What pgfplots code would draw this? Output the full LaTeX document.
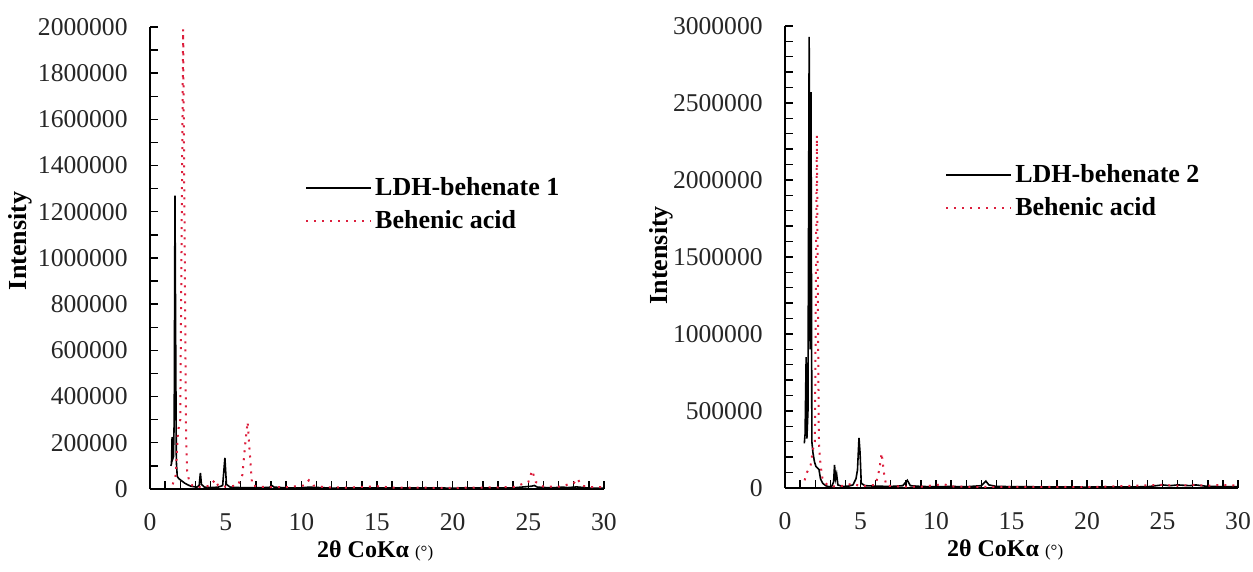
\documentclass[border=0pt]{standalone}
\usepackage{fontspec}
\setmainfont{Liberation Serif}
\usepackage{pgfplots}
\pgfplotsset{compat=1.18}
\definecolor{acidred}{RGB}{220,30,60}
\pgfplotsset{
  xrdaxis/.style={
    scale only axis,
    axis lines=left,
    axis line style={-, line width=0.7pt, black},
    every tick/.style={black, line width=0.7pt},
    tick align=inside,
    xtick pos=bottom, ytick pos=left,
    major tick length=4pt, minor tick length=4pt,
    xmin=0, xmax=30, ymin=0,
    xtick distance=5, minor x tick num=4,
    scaled y ticks=false,
    /pgf/number format/assume math mode=true,
    yticklabel style={/pgf/number format/fixed, /pgf/number format/1000 sep={}, anchor=east, inner sep=0pt, xshift=-11pt, font=\fontsize{12.8}{14}\selectfont, text=black!85},
    xticklabel style={anchor=center, inner sep=0pt, yshift=-16.5pt, font=\fontsize{12.8}{14}\selectfont, text=black!85},
    ylabel style={anchor=center, font=\bfseries\fontsize{13}{15}\selectfont},
    xlabel style={anchor=center, font=\bfseries\fontsize{12}{14}\selectfont},
    legend style={draw=none, fill=none, anchor=west, inner sep=0pt, row sep=3pt, font=\bfseries\fontsize{13}{15}\selectfont, nodes={inner sep=1.5pt}},
    legend cell align=left,
    legend image code/.code={\draw[##1] (0pt,0pt) -- (32.5pt,0pt);},
    clip=true,
  },
  ldh/.style={black, line width=0.8pt},
  acid/.style={acidred, line width=1pt, dash pattern=on 1pt off 3pt},
}
\begin{document}
\begin{tikzpicture}
\path[use as bounding box] (0,0) rectangle (626.5pt,286pt);
% ---------------- left panel ----------------
\begin{axis}[xrdaxis,
  at={(75pt,41.5pt)}, anchor=south west,
  width=227pt, height=231pt,
  ymax=2000000, ytick distance=200000, minor y tick num=1,
  ylabel={Intensity},
  ylabel style={at={(axis description cs:-0.285,0.537)}},
  xlabel={2θ CoKα {\fontsize{8.5}{9}\selectfont\mdseries(°)}},
  xlabel style={at={(axis description cs:0.496,-0.134)}},
  legend style={at={(axis description cs:0.341,0.616)}},
]
\addplot[ldh] coordinates {
(1.38,100000) (1.42,110000) (1.46,225000) (1.50,130000) (1.55,140000) (1.60,300000) (1.65,1270000) (1.70,600000) (1.74,120000) (1.80,55000) (1.90,45000) (2.0,40000) (2.1,35000) (2.3,25000) (2.5,18000) (2.7,12000) (2.9,10000) (3.1,8000) (3.25,15000) (3.33,70000) (3.40,20000) (3.6,8000) (4.0,6000) (4.5,8000) (4.8,15000) (4.95,135000) (5.05,20000) (5.3,8000) (6,6000) (7,5000) (7.9,7000) (8.05,15000) (8.2,8000) (9,5000) (10,5000) (10.5,8000) (12,4000) (15,5000) (20,4000) (24,5000) (25.2,12000) (25.4,15000) (25.6,8000) (26.5,5000) (27.3,8000) (27.6,6000) (28.2,9000) (29,4000) (30,4000)
};
\addlegendentry{LDH-behenate 1}
\addplot[acid] coordinates {
(1.5,20000) (1.7,60000) (1.85,250000) (2.0,300000) (2.19,1990000) (2.38,250000) (2.45,80000) (2.6,30000) (2.8,15000) (3.0,10000) (3.5,8000) (4.0,15000) (4.3,40000) (4.5,15000) (5.0,10000) (5.8,15000) (6.1,60000) (6.3,200000) (6.45,290000) (6.6,150000) (6.75,15000) (7.2,10000) (8,8000) (9,8000) (10.2,15000) (10.5,38000) (10.8,15000) (11.5,8000) (13,6000) (15,12000) (16,6000) (20,5000) (24,8000) (25.0,30000) (25.25,80000) (25.5,30000) (26,10000) (27,10000) (28.0,25000) (28.25,45000) (28.5,15000) (29,8000) (30,8000)
};
\addlegendentry{Behenic acid}
\end{axis}
% ---------------- right panel ----------------
\begin{axis}[xrdaxis,
  at={(392.5pt,42pt)}, anchor=south west,
  width=226.5pt, height=231pt,
  ymax=3000000, ytick distance=500000, minor y tick num=4,
  ylabel={Intensity},
  ylabel style={at={(axis description cs:-0.274,0.504)}},
  xlabel={2θ CoKα {\fontsize{8.5}{9}\selectfont\mdseries(°)}},
  xlabel style={at={(axis description cs:0.486,-0.134)}},
  legend style={at={(axis description cs:0.353,0.642)}},
]
\addplot[ldh] coordinates {
(1.28,290000) (1.33,350000) (1.40,850000) (1.45,320000) (1.52,500000) (1.60,2930000) (1.66,900000) (1.72,2570000) (1.78,300000) (1.85,230000) (1.95,170000) (2.05,140000) (2.15,130000) (2.25,120000) (2.35,60000) (2.5,30000) (2.7,15000) (2.9,8000) (3.1,12000) (3.22,40000) (3.28,150000) (3.35,60000) (3.42,90000) (3.5,20000) (3.8,10000) (4.2,12000) (4.5,20000) (4.7,60000) (4.8,117000) (4.9,325000) (4.97,230000) (5.05,30000) (5.3,15000) (6,12000) (7,10000) (7.8,15000) (8.1,50000) (8.3,15000) (9,10000) (10,8000) (11,10000) (12,8000) (13,15000) (13.3,45000) (13.5,20000) (14,10000) (16,8000) (20,6000) (24,8000) (25,20000) (25.5,15000) (26,20000) (26.8,15000) (27.2,20000) (28,10000) (30,8000)
};
\addlegendentry{LDH-behenate 2}
\addplot[acid] coordinates {
(1.3,50000) (1.45,100000) (1.55,120000) (1.7,150000) (1.85,250000) (1.98,300000) (2.11,2290000) (2.24,300000) (2.35,150000) (2.5,50000) (2.8,20000) (3.2,10000) (4,15000) (4.5,30000) (5,10000) (6.0,20000) (6.25,120000) (6.4,227000) (6.55,100000) (6.7,15000) (7.5,10000) (9,8000) (10.5,25000) (11,10000) (12,8000) (15,8000) (20,6000) (25,20000) (26,15000) (27,20000) (28,15000) (29,20000) (30,15000)
};
\addlegendentry{Behenic acid}
\end{axis}
\end{tikzpicture}
\end{document}
